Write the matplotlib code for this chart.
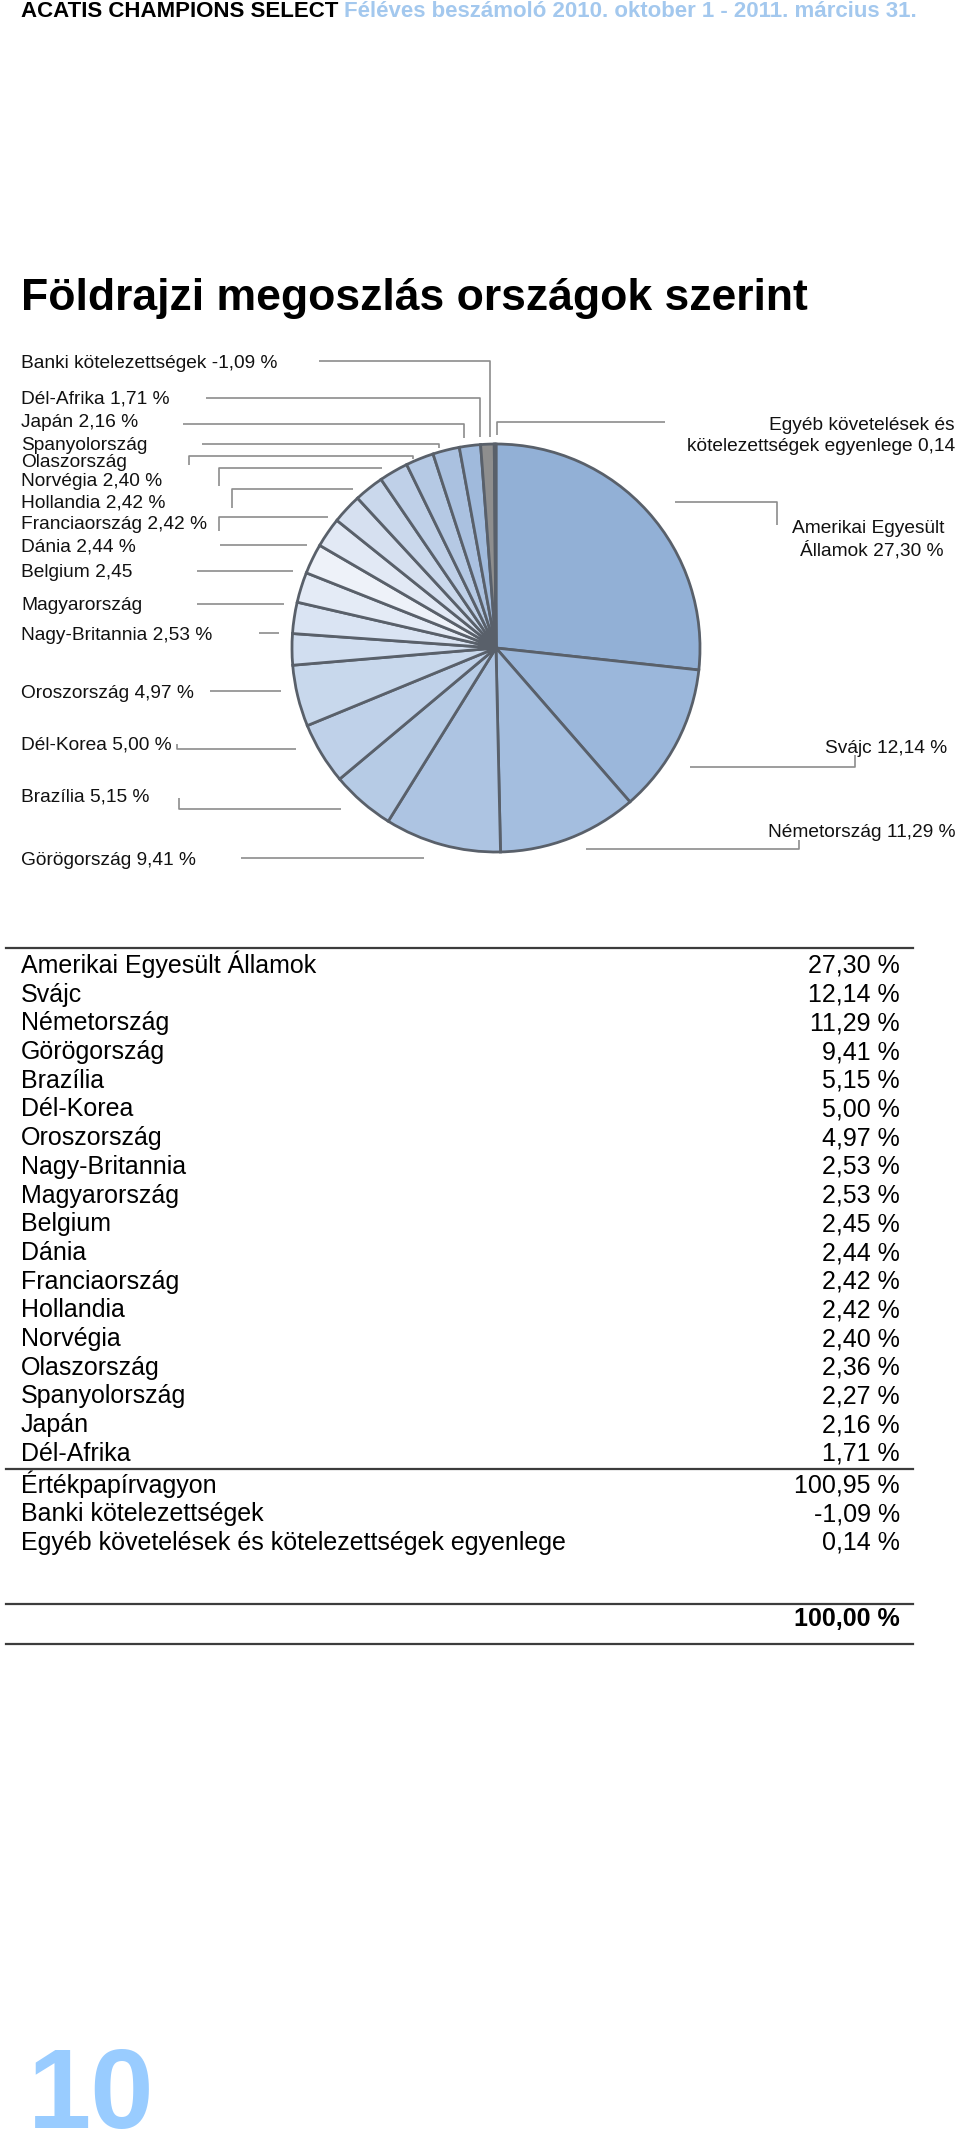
import matplotlib
matplotlib.use("Agg")
import matplotlib.pyplot as plt

plt.rcParams['font.family'] = ['Liberation Sans', 'DejaVu Sans']

# ---------------- data ----------------
countries = ["Amerikai Egyesült Államok", "Svájc", "Németország", "Görögország",
             "Brazília", "Dél-Korea", "Oroszország", "Nagy-Britannia", "Magyarország",
             "Belgium", "Dánia", "Franciaország", "Hollandia", "Norvégia",
             "Olaszország", "Spanyolország", "Japán", "Dél-Afrika"]
country_pct = [27.30, 12.14, 11.29, 9.41, 5.15, 5.00, 4.97, 2.53, 2.53,
               2.45, 2.44, 2.42, 2.42, 2.40, 2.36, 2.27, 2.16, 1.71]
securities_label = "Értékpapírvagyon"
securities_total = 100.95
bank_label = "Banki kötelezettségek"
bank_liab = -1.09
other_label = "Egyéb követelések és kötelezettségek egyenlege"
other_net = 0.14
grand_total = 100.00

# pie slices: countries, then bank liabilities (abs) and other balance
pie_values = country_pct + [abs(bank_liab), other_net]
pie_colors = ["#92B0D6", "#9BB7DB", "#A4BEDF", "#ADC4E2", "#B6CBE5", "#BFD1E9",
              "#C8D8EC", "#D1DEF0", "#DAE4F3", "#E4EBF6", "#EEF2F9", "#E2E9F5",
              "#D6E0F0", "#CAD8EC", "#BFD0E8", "#B5C9E4", "#AAC1E0", "#A0BADC",
              "#8E8E8E", "#7A7A7A"]

# pie labels (as printed in the chart)
left_labels = ["Banki kötelezettségek -1,09 %", "Dél-Afrika 1,71 %", "Japán 2,16 %",
               "Spanyolország", "Olaszország", "Norvégia 2,40 %", "Hollandia 2,42 %",
               "Franciaország 2,42 %", "Dánia 2,44 %", "Belgium 2,45", "Magyarország",
               "Nagy-Britannia 2,53 %", "Oroszország 4,97 %", "Dél-Korea 5,00 %",
               "Brazília 5,15 %", "Görögország 9,41 %"]
right_labels = ["Egyéb követelések és\nkötelezettségek egyenlege 0,14",
                "Amerikai Egyesült\nÁllamok 27,30 %", "Svájc 12,14 %",
                "Németország 11,29 %"]

# ---------------- layout (pixels) ----------------
W, H = 960, 2136
left_label_base = [368, 404, 427, 450, 467, 486, 507, 529, 552, 577, 610, 640,
                   698, 749, 802, 865]
left_leaders = [
    [(319, 361), (490, 361), (490, 437)],
    [(206, 398), (480, 398), (480, 437)],
    [(183, 424), (464, 424), (464, 438)],
    [(202, 444), (439, 444), (439, 448)],
    [(189, 465), (189, 456), (413, 456), (413, 459)],
    [(219, 486), (219, 468), (382, 468)],
    [(232, 508), (232, 489), (353, 489)],
    [(219, 531), (219, 517), (328, 517)],
    [(220, 545), (307, 545)],
    [(197, 571), (293, 571)],
    [(197, 604), (284, 604)],
    [(259, 633), (279, 633)],
    [(210, 691), (281, 691)],
    [(177, 744), (177, 749), (296, 749)],
    [(179, 798), (179, 809), (341, 809)],
    [(241, 858), (424, 858)],
]
right_leaders = [
    [(497, 435), (497, 422), (665, 422)],
    [(675, 502), (777, 502), (777, 525)],
    [(690, 767), (855, 767), (855, 755)],
    [(586, 849), (799, 849), (799, 840)],
]

fig = plt.figure(figsize=(W / 100, H / 100), dpi=100)
fig.patch.set_facecolor("white")
ax = fig.add_axes([0, 0, 1, 1])
ax.set_xlim(0, W)
ax.set_ylim(H, 0)
ax.axis("off")

# header
hdr1 = ax.text(21, 17, "ACATIS CHAMPIONS SELECT", fontsize=16, fontweight="bold",
               color="black", ha="left", va="baseline")
fig.canvas.draw()
bb = hdr1.get_window_extent()
ax.text(21 + bb.width + 6, 17, "Féléves beszámoló 2010. oktober 1 - 2011. március 31.",
        fontsize=16, fontweight="bold", color="#A3C8EE", ha="left", va="baseline")

# title
ax.text(21, 310, "Földrajzi megoszlás országok szerint", fontsize=32,
        fontweight="bold", color="black", ha="left", va="baseline")

# pie
cx, cy, r = 496, 648, 204
pad = 1.03
rb = r * pad
pax = fig.add_axes([(cx - rb) / W, 1 - (cy + rb) / H, 2 * rb / W, 2 * rb / H])
pax.pie(pie_values, colors=pie_colors, startangle=90, counterclock=False,
        wedgeprops=dict(edgecolor="#59606A", linewidth=2.0))
pax.set_xlim(-pad, pad)
pax.set_ylim(-pad, pad)
pax.set_aspect("equal")
pax.axis("off")

lead_col = "#8C8C8C"
for pts in left_leaders + right_leaders:
    xs = [p[0] for p in pts]
    ys = [p[1] for p in pts]
    ax.plot(xs, ys, color=lead_col, lw=1.2, solid_capstyle="butt")

lab_fs = 13.8
for txt, yb in zip(left_labels, left_label_base):
    ax.text(21, yb, txt, fontsize=lab_fs, ha="left", va="baseline", color="#111111")

ax.text(955, 430, right_labels[0].split("\n")[0], fontsize=lab_fs, ha="right",
        va="baseline", color="#111111")
ax.text(955, 451, right_labels[0].split("\n")[1], fontsize=lab_fs, ha="right",
        va="baseline", color="#111111")
ax.text(944, 533, right_labels[1].split("\n")[0], fontsize=lab_fs, ha="right",
        va="baseline", color="#111111")
ax.text(944, 555, right_labels[1].split("\n")[1], fontsize=lab_fs, ha="right",
        va="baseline", color="#111111")
ax.text(825, 753, right_labels[2], fontsize=lab_fs, ha="left", va="baseline",
        color="#111111")
ax.text(768, 837, right_labels[3], fontsize=lab_fs, ha="left", va="baseline",
        color="#111111")

# table
def fmt(v):
    return f"{v:.2f} %".replace(".", ",")

rule_col = "#3C3C3C"
tab_fs = 18
x_l, x_r = 21, 900
row0, step = 973, 28.7
ax.plot([6, 913], [948, 948], color=rule_col, lw=1.6)
for i, (name, v) in enumerate(zip(countries, country_pct)):
    yb = row0 + step * i
    ax.text(x_l, yb, name, fontsize=tab_fs, ha="left", va="baseline")
    ax.text(x_r, yb, fmt(v), fontsize=tab_fs, ha="right", va="baseline")
ax.plot([6, 913], [1469, 1469], color=rule_col, lw=1.6)
for j, (name, v) in enumerate([(securities_label, securities_total),
                               (bank_label, bank_liab),
                               (other_label, other_net)]):
    yb = 1492.5 + step * j
    ax.text(x_l, yb, name, fontsize=tab_fs, ha="left", va="baseline")
    ax.text(x_r, yb, fmt(v), fontsize=tab_fs, ha="right", va="baseline")
ax.plot([6, 913], [1604, 1604], color=rule_col, lw=1.6)
ax.text(x_r, 1626, fmt(grand_total), fontsize=tab_fs, fontweight="bold",
        ha="right", va="baseline")
ax.plot([6, 913], [1644, 1644], color=rule_col, lw=1.6)

# page number
ax.text(28, 2128, "10", fontsize=82, fontweight="bold", color="#99CCFF",
        ha="left", va="baseline")

fig.savefig("out.png", dpi=100, facecolor="white")
